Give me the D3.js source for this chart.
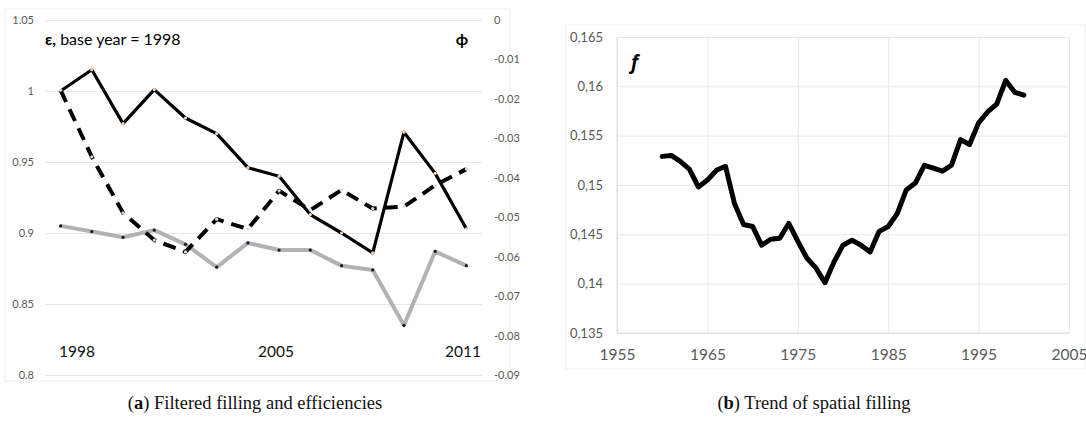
<!DOCTYPE html>
<html>
<head>
<meta charset="utf-8">
<script src="https://cdn.jsdelivr.net/npm/d3@7"></script>
<style>
  body { margin: 0; background: #fff; }
  svg { display: block; }
  .tick text { font-family: Lato, "Open Sans", sans-serif; fill: #595959; }
</style>
</head>
<body>
<svg id="chart" width="1086" height="425"></svg>
<script>
// panel (a): years 1998-2011
var years = [1998, 1999, 2000, 2001, 2002, 2003, 2004, 2005, 2006, 2007, 2008, 2009, 2010, 2011];
// efficiency, solid black (left axis)
var epsSolid = [1.000, 1.015, 0.977, 1.001, 0.981, 0.970, 0.946, 0.940, 0.913, 0.900, 0.886, 0.971, 0.942, 0.903];
// efficiency, grey (left axis)
var epsGrey = [0.905, 0.901, 0.897, 0.902, 0.892, 0.876, 0.893, 0.888, 0.888, 0.877, 0.874, 0.835, 0.887, 0.877];
// filtered filling phi, dashed (right axis)
var phiDashed = [-0.0178, -0.0347, -0.0489, -0.0558, -0.0588, -0.0505, -0.0530, -0.0433, -0.0482, -0.0431, -0.0478, -0.0473, -0.0419, -0.0378];
var leftTicks = [0.8, 0.85, 0.9, 0.95, 1, 1.05];
var rightTicks = [0, -0.01, -0.02, -0.03, -0.04, -0.05, -0.06, -0.07, -0.08, -0.09];
var yearLabels = [1998, 2005, 2011];

// panel (b): spatial filling f, 1960-2000
var fYears = d3.range(1960, 2001);
var fValues = [0.1529, 0.1530, 0.1524, 0.1516, 0.1498, 0.1505, 0.1515, 0.1519, 0.1481, 0.1460,
               0.1458, 0.1439, 0.1445, 0.1446, 0.1461, 0.1443, 0.1426, 0.1416, 0.1401, 0.1422,
               0.1439, 0.1444, 0.1439, 0.1432, 0.1453, 0.1458, 0.1471, 0.1495, 0.1502, 0.1520,
               0.1517, 0.1514, 0.1520, 0.1546, 0.1541, 0.1563, 0.1574, 0.1582, 0.1606, 0.1594, 0.1591];
var fTicksY = [0.135, 0.14, 0.145, 0.15, 0.155, 0.16, 0.165];
var fTicksX = [1955, 1965, 1975, 1985, 1995, 2005];

var svg = d3.select("#chart");
var gridColor = "#e8e8e8";

// ---------- panel (a) ----------
var a = svg.append("g");
a.append("rect")
  .attr("x", 5).attr("y", 9).attr("width", 505).attr("height", 372)
  .attr("fill", "none").attr("stroke", "#efefef");

var x = d3.scalePoint().domain(years).range([45, 482]).padding(0.5);
var yL = d3.scaleLinear().domain([0.8, 1.05]).range([375, 20]);
var yR = d3.scaleLinear().domain([-0.09, 0]).range([375, 20]);

a.append("g")
  .attr("transform", "translate(45,0)")
  .call(d3.axisLeft(yL).tickValues(leftTicks).tickSize(-437).tickPadding(11)
        .tickFormat(d => String(+d.toFixed(2))))
  .call(g => g.select(".domain").remove())
  .call(g => g.selectAll(".tick line").attr("stroke", gridColor))
  .call(g => g.selectAll(".tick text").attr("font-size", 11));

a.append("g")
  .attr("transform", "translate(482,0)")
  .call(d3.axisRight(yR).tickValues(rightTicks).tickSize(0).tickPadding(12)
        .tickFormat(d => d === 0 ? "0" : d3.format(".2f")(d).replace("−", "-")))
  .call(g => g.select(".domain").remove())
  .call(g => g.selectAll(".tick text").attr("font-size", 11));

var lineL = d3.line().x((d, i) => x(years[i])).y(d => yL(d));
var lineR = d3.line().x((d, i) => x(years[i])).y(d => yR(d));

a.append("path")
  .attr("d", lineL(epsGrey))
  .attr("fill", "none").attr("stroke", "#b3b1b1").attr("stroke-width", 4)
  .attr("stroke-linejoin", "round");
a.selectAll(".gdot").data(epsGrey).enter().append("circle")
  .attr("cx", (d, i) => x(years[i])).attr("cy", d => yL(d)).attr("r", 1.6)
  .attr("fill", "#0d1a33");

a.append("path")
  .attr("d", lineL(epsSolid))
  .attr("fill", "none").attr("stroke", "#000").attr("stroke-width", 3.2)
  .attr("stroke-linejoin", "round");
a.selectAll(".sdot").data(epsSolid).enter().append("circle")
  .attr("cx", (d, i) => x(years[i])).attr("cy", d => yL(d)).attr("r", 1.6)
  .attr("fill", "#f6d2b6");

a.append("path")
  .attr("d", lineR(phiDashed))
  .attr("fill", "none").attr("stroke", "#000").attr("stroke-width", 4)
  .attr("stroke-dasharray", "13,8").attr("stroke-linejoin", "round");
a.selectAll(".ddot").data(phiDashed).enter().append("circle")
  .attr("cx", (d, i) => x(years[i])).attr("cy", d => yR(d)).attr("r", 1.6)
  .attr("fill", "#d9d9d9");

var labelFont = "Lato, 'Open Sans', sans-serif";
a.append("text")
  .attr("x", 45).attr("y", 45)
  .attr("font-family", labelFont).attr("font-size", 16).attr("fill", "#000")
  .call(t => t.append("tspan").attr("font-weight", "bold").text("ε,"))
  .call(t => t.append("tspan").text(" base year = 1998"));
a.append("text")
  .attr("x", 462).attr("y", 45).attr("text-anchor", "middle")
  .attr("font-family", labelFont).attr("font-size", 16).attr("font-weight", "bold")
  .text("ϕ");

a.selectAll(".ylab").data(yearLabels).enter().append("text")
  .attr("x", (d, i) => i === 0 ? 59 : (i === 1 ? 258 : 481))
  .attr("text-anchor", (d, i) => i === 2 ? "end" : "start")
  .attr("y", 357)
  .attr("font-family", labelFont).attr("font-size", 15.5).attr("fill", "#111")
  .text(d => d);

// ---------- panel (b) ----------
var b = svg.append("g");
b.append("rect")
  .attr("x", 566).attr("y", 25).attr("width", 519).attr("height", 344)
  .attr("fill", "none").attr("stroke", "#efefef");

var xF = d3.scaleLinear().domain([1955, 2005]).range([617, 1069]);
var yF = d3.scaleLinear().domain([0.135, 0.165]).range([333, 37]);

b.append("g")
  .attr("transform", "translate(617,0)")
  .call(d3.axisLeft(yF).tickValues(fTicksY).tickSize(-452).tickPadding(14)
        .tickFormat(d => String(+d.toFixed(3)).replace(".", ",")))
  .call(g => g.select(".domain").remove())
  .call(g => g.selectAll(".tick line").attr("stroke", gridColor))
  .call(g => g.selectAll(".tick text").attr("font-size", 13));

b.append("g")
  .attr("transform", "translate(0,333)")
  .call(d3.axisBottom(xF).tickValues(fTicksX).tickSize(-296).tickPadding(16)
        .tickFormat(d3.format("d")))
  .call(g => g.select(".domain").remove())
  .call(g => g.selectAll(".tick line").attr("stroke", gridColor))
  .call(g => g.selectAll(".tick text").attr("font-size", 15.5));

// plot-area left/bottom edges
b.append("line").attr("x1", 617).attr("x2", 617).attr("y1", 37).attr("y2", 333).attr("stroke", "#dcdcdc");
b.append("line").attr("x1", 617).attr("x2", 1069).attr("y1", 333).attr("y2", 333).attr("stroke", "#dcdcdc");

var lineF = d3.line().x((d, i) => xF(fYears[i])).y(d => yF(d));
b.append("path")
  .attr("d", lineF(fValues))
  .attr("fill", "none").attr("stroke", "#000").attr("stroke-width", 5)
  .attr("stroke-linejoin", "round").attr("stroke-linecap", "round");

b.append("text")
  .attr("x", 631).attr("y", 69)
  .attr("font-family", "'Open Sans', Lato, sans-serif").attr("font-size", 19)
  .attr("font-style", "italic").attr("font-weight", "bold")
  .text("f");

// ---------- captions ----------
var capFont = "'Liberation Serif', 'DejaVu Serif', serif";
svg.append("text")
  .attr("x", 255).attr("y", 409).attr("text-anchor", "middle")
  .attr("font-family", capFont).attr("font-size", 18.5).attr("fill", "#111")
  .call(t => t.append("tspan").text("("))
  .call(t => t.append("tspan").attr("font-weight", "bold").text("a"))
  .call(t => t.append("tspan").text(") Filtered filling and efficiencies"));
svg.append("text")
  .attr("x", 814).attr("y", 409).attr("text-anchor", "middle")
  .attr("font-family", capFont).attr("font-size", 18.5).attr("fill", "#111")
  .call(t => t.append("tspan").text("("))
  .call(t => t.append("tspan").attr("font-weight", "bold").text("b"))
  .call(t => t.append("tspan").text(") Trend of spatial filling"));
</script>
</body>
</html>
